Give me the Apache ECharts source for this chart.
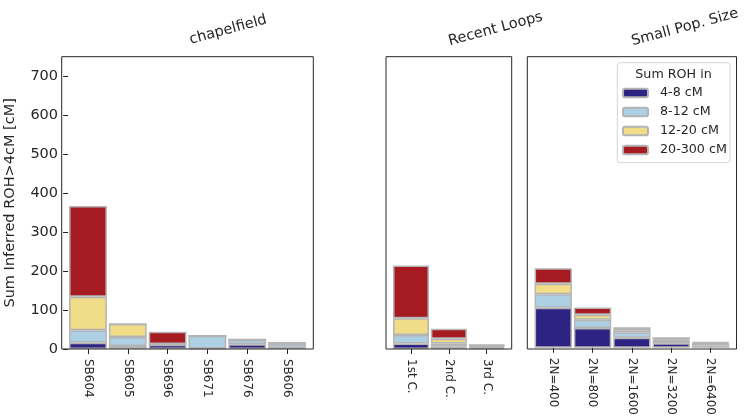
<!DOCTYPE html>
<html><head><meta charset="utf-8">
<script src="https://cdn.jsdelivr.net/npm/echarts@6/dist/echarts.min.js"></script>
<style>html,body{margin:0;padding:0;background:#fff}#c{width:744px;height:418px}</style>
</head><body><div id="c"></div>
<script>
// ---- data ----
const seriesNames = ['4-8 cM', '8-12 cM', '12-20 cM', '20-300 cM'];
const yTicks = [0, 100, 200, 300, 400, 500, 600, 700];

const cats1 = ['SB604', 'SB605', 'SB696', 'SB671', 'SB676', 'SB606'];
const roh48_1 = [16, 8, 11, 1, 12, 6];
const roh812_1 = [32, 23, 1, 33, 12, 9];
const roh1220_1 = [86, 33, 1, 0, 0, 1];
const roh20_1 = [233, 0, 31, 0, 1, 0];

const cats2 = ['1st C.', '2nd C.', '3rd C.'];
const roh48_2 = [14, 6, 3];
const roh812_2 = [22, 8, 3];
const roh1220_2 = [43, 12, 2];
const roh20_2 = [135, 26, 4];

const cats3 = ['2N=400', '2N=800', '2N=1600', '2N=3200', '2N=6400'];
const roh48_3 = [103, 51, 26, 12, 6];
const roh812_3 = [35, 21, 14, 6, 4];
const roh1220_3 = [27, 13, 5, 3, 2];
const roh20_3 = [40, 19, 8, 6, 3];

const titles = ['chapelfield', 'Recent Loops', 'Small Pop. Size'];

// ---- style ----
const FONT = 'DejaVu Sans';
const colors = ['#2d2383', '#aed0e4', '#f1dc88', '#a51b21'];
const edge = '#b4b4b4';
const ink = '#262626';

const frames = [
  {left: 61.7, top: 56.7, width: 251.6, height: 292.3},
  {left: 386, top: 56.7, width: 125.7, height: 292.3},
  {left: 527.3, top: 56.7, width: 209.2, height: 292.3}
];
const panels = [
  {cats: cats1, vals: [roh48_1, roh812_1, roh1220_1, roh20_1], yLabels: true},
  {cats: cats2, vals: [roh48_2, roh812_2, roh1220_2, roh20_2], yLabels: false},
  {cats: cats3, vals: [roh48_3, roh812_3, roh1220_3, roh20_3], yLabels: false}
];
const MARGIN = 0.16; // extra x padding (in category bands) on each side, like xlim(-0.66, n-0.34)

const grid = [], xAxis = [], yAxis = [], series = [];
panels.forEach((p, i) => {
  const f = frames[i];
  const n = p.cats.length;
  const band = f.width / (n + 2 * MARGIN);
  grid.push({show: false, left: f.left + MARGIN * band, top: f.top, width: n * band, height: f.height});
  xAxis.push({
    type: 'category', gridIndex: i, data: p.cats,
    axisLine: {show: false, onZero: false}, splitLine: {show: false},
    axisTick: {show: true, alignWithLabel: true, length: 5, lineStyle: {color: ink, width: 1}},
    axisLabel: {rotate: -90, fontFamily: FONT, fontSize: 12, color: ink, margin: 10, interval: 0}
  });
  yAxis.push({
    type: 'value', gridIndex: i, min: 0, max: 750,
    axisLine: {show: false, onZero: false}, splitLine: {show: false},
    axisTick: {show: p.yLabels, length: 5, lineStyle: {color: ink, width: 1}, customValues: yTicks},
    axisLabel: {show: p.yLabels, fontFamily: FONT, fontSize: 14.5, color: ink, margin: 10, customValues: yTicks},
    name: p.yLabels ? 'Sum Inferred ROH>4cM [cM]' : '',
    nameLocation: 'middle', nameGap: 44 + MARGIN * band,
    nameTextStyle: {fontFamily: FONT, fontSize: 14.5, color: ink}
  });
  p.vals.forEach((arr, s) => {
    series.push({
      type: 'bar', name: seriesNames[s], xAxisIndex: i, yAxisIndex: i, stack: 'p' + i,
      barWidth: '95%',
      itemStyle: {color: colors[s], borderColor: edge, borderWidth: 1.5},
      emphasis: {disabled: true},
      data: arr
    });
  });
});
// frame boxes (axes hidden)
frames.forEach((f, i) => {
  grid.push(Object.assign({show: true, borderColor: ink, borderWidth: 1, backgroundColor: 'transparent', z: 3}, f));
  xAxis.push({type: 'value', gridIndex: 3 + i, show: false, min: 0, max: 1});
  yAxis.push({type: 'value', gridIndex: 3 + i, show: false, min: 0, max: 1});
});

const deg = Math.PI / 180;
const titlePos = [[191, 45], [450, 46.5], [633, 46.5]];
const graphic = titles.map((t, i) => ({
  type: 'text', x: titlePos[i][0], y: titlePos[i][1], rotation: 15 * deg,
  style: {text: t, x: 0, y: -5, align: 'left', verticalAlign: 'middle', font: '14.5px "' + FONT + '"', fill: ink}
}));
graphic.push({type: 'rect', z: 1, shape: {x: 617.3, y: 62.7, width: 112.7, height: 100, r: 3},
  style: {fill: 'rgba(255,255,255,0.8)', stroke: '#d4d4d4', lineWidth: 1}});
graphic.push({type: 'text', z: 2, x: 673.5, y: 75,
  style: {text: 'Sum ROH in', align: 'center', verticalAlign: 'middle', font: '12.7px "' + FONT + '"', fill: ink}});

const chart = echarts.init(document.getElementById('c'), null, {renderer: 'canvas'});
chart.setOption({
  animation: false,
  textStyle: {fontFamily: FONT},
  grid, xAxis, yAxis, series, graphic,
  legend: {
    data: seriesNames, orient: 'vertical', left: 622, top: 85.5, padding: 0,
    itemWidth: 25, itemHeight: 8.5, itemGap: 4, selectedMode: false, z: 5,
    textStyle: {fontFamily: FONT, fontSize: 12.7, color: ink, lineHeight: 15, padding: [0, 0, 0, 7]}
  }
});
</script></body></html>
